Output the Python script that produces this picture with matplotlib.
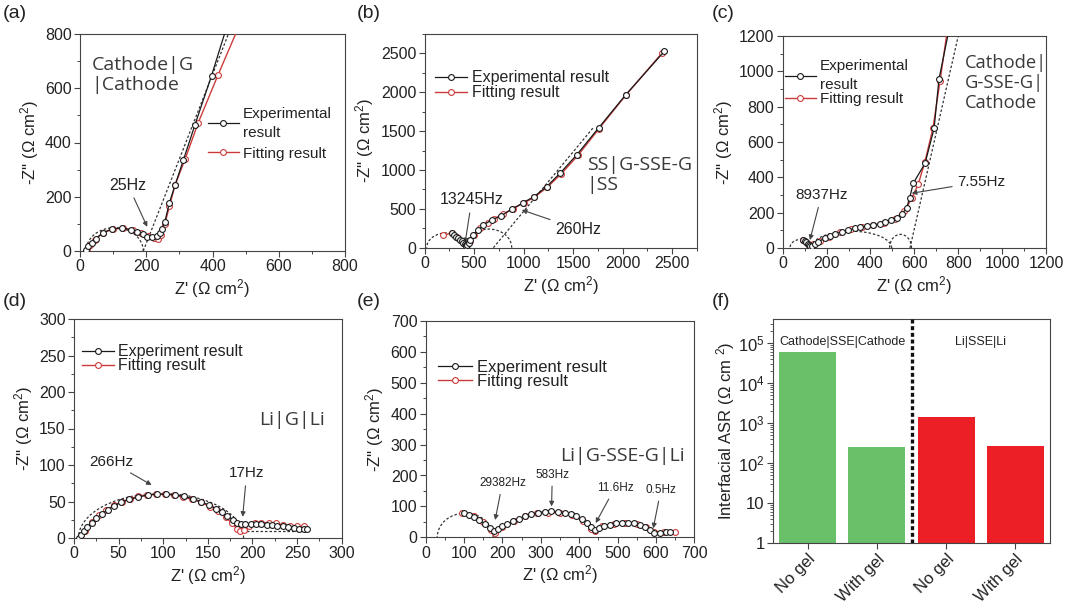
import numpy as np
import matplotlib
matplotlib.use("Agg")
import matplotlib.pyplot as plt
from matplotlib.patches import Arc
from matplotlib.ticker import MultipleLocator, FixedLocator, LogLocator, NullFormatter

plt.rcParams['font.family'] = ['Liberation Sans', 'DejaVu Sans']
plt.rcParams['mathtext.fontset'] = 'custom'
plt.rcParams['mathtext.rm'] = 'Liberation Sans'
plt.rcParams['mathtext.it'] = 'Liberation Sans:italic'
plt.rcParams['mathtext.bf'] = 'Liberation Sans:bold'

# ---------------- data ----------------
# (a) Cathode|G|Cathode
a_exp_x = [18, 25, 35, 48, 70, 96, 126, 153, 173, 189, 203, 217, 232, 241, 247, 256, 270, 287, 312, 347, 397, 440]
a_exp_y = [5, 17, 30, 46, 68, 81, 85, 79, 69, 61, 52, 50, 55, 68, 82, 107, 178, 243, 335, 465, 646, 815]
a_fit_x = [20, 30, 45, 70, 100, 130, 160, 185, 205, 222, 235, 245, 256, 270, 287, 317, 357, 417, 475]
a_fit_y = [6, 22, 42, 67, 81, 84, 78, 67, 55, 47, 45, 60, 100, 165, 243, 338, 473, 650, 815]
a_arcs = [(104.5, 173, 172)]          # centre, width, height (data units)
a_guide_x = [191, 448]
a_guide_y = [0, 800]

# (b) SS|G-SSE-G|SS
b_exp_x = [275, 300, 322, 342, 360, 378, 393, 405, 415, 422, 430, 445, 460, 493, 544, 594, 679, 770, 881, 998,
           1106, 1234, 1369, 1537, 1756, 2032, 2422]
b_exp_y = [186, 165, 142, 120, 100, 80, 62, 48, 36, 28, 30, 60, 100, 164, 228, 293, 357, 409, 495, 581,
           658, 787, 960, 1196, 1540, 1970, 2529]
b_fit_x = [190, 275, 330, 380, 420, 460, 500, 560, 640, 700, 790, 890, 1000, 1110, 1240, 1380, 1550, 1760, 2030, 2400]
b_fit_y = [160, 190, 135, 80, 35, 90, 165, 250, 320, 370, 430, 500, 575, 650, 780, 950, 1190, 1530, 1960, 2510]
b_arcs = [(222, 400, 380), (650, 460, 480)]
b_guide_x = [695, 1700]
b_guide_y = [0, 1540]

# (c) Cathode|G-SSE-G|Cathode
c_exp_x = [94, 100, 107, 114, 120, 126, 132, 145, 162, 193, 216, 238, 269, 299, 330, 352, 383, 413, 444, 466,
           492, 520, 542, 565, 578, 595, 649, 690, 712, 757]
c_exp_y = [45, 39, 32, 25, 18, 12, 14, 24, 36, 55, 68, 79, 91, 102, 111, 117, 124, 130, 138, 147,
           158, 171, 190, 228, 281, 366, 480, 677, 954, 1230]
c_fit_x = [94, 110, 126, 140, 170, 210, 260, 310, 360, 410, 460, 510, 555, 590, 618, 648, 685, 717, 750]
c_fit_y = [45, 30, 12, 22, 42, 65, 88, 105, 118, 128, 142, 165, 210, 285, 362, 487, 680, 945, 1230]
c_arcs = [(82, 98, 98), (313, 367, 190), (537, 100, 154)]
c_guide_x = [580, 800]
c_guide_y = [0, 1200]

# (d) Li|G|Li
d_exp_x = [6, 8, 11, 15, 20, 25, 31, 38, 45, 53, 62, 72, 83, 93, 103, 113, 123, 133, 142, 151, 159, 166, 172, 178,
           183, 187, 192, 198, 204, 210, 216, 222, 228, 234, 240, 246, 252, 258, 261]
d_exp_y = [0, 4, 9, 15, 21, 27, 33, 39, 44, 49, 53, 56, 59, 60, 60, 59, 57, 54, 50, 45, 40, 35, 30, 25,
           21, 19, 19, 19, 19, 19, 18, 18, 17, 16, 15, 14, 13, 12, 12]
d_fit_x = [7, 12, 20, 28, 36, 45, 54, 63, 72, 82, 92, 102, 112, 122, 132, 142, 152, 161, 170, 177, 183, 186, 190,
           196, 203, 210, 218, 226, 234, 242, 250, 258]
d_fit_y = [0, 10, 22, 31, 38, 45, 50, 54, 57, 59, 60, 60, 59, 56, 53, 49, 43, 37, 29, 20, 12, 9, 11,
           17, 20, 21, 21, 20, 18, 17, 16, 16]
d_arcs = [(97.5, 185, 122)]
d_guide_x = [188, 262]
d_guide_y = [10, 10]

# (e) Li|G-SSE-G|Li
e_exp_x = [100, 112, 125, 140, 155, 168, 178, 188, 200, 213, 227, 242, 258, 275, 293, 310, 327, 345, 362, 378, 393,
           408, 420, 432, 440, 452, 465, 480, 496, 512, 528, 543, 558, 572, 585, 595, 610, 625, 637]
e_exp_y = [78, 73, 66, 55, 43, 30, 22, 28, 36, 44, 52, 60, 68, 74, 80, 83, 84, 83, 80, 75, 68,
           58, 45, 32, 25, 30, 36, 41, 45, 47, 47, 45, 40, 32, 24, 15, 14, 17, 18]
e_fit_x = [95, 125, 150, 170, 180, 200, 230, 260, 290, 320, 350, 380, 410, 430, 440, 460, 490, 520, 550, 575, 595, 620, 650]
e_fit_y = [78, 70, 50, 25, 15, 32, 52, 68, 78, 80, 79, 72, 52, 28, 20, 35, 44, 47, 44, 32, 18, 17, 18]
e_arcs = [(103, 146, 156)]

# (f) interfacial ASR
f_cats = ['No gel', 'With gel', 'No gel', 'With gel']
f_vals = [6.0e4, 250, 1400, 265]
f_groups = ['Cathode|SSE|Cathode', 'Li|SSE|Li']

# ---------------- styles ----------------
BLACK = '#1a1a1a'
RED = '#cc3b3b'
GUIDE = '#333333'
SPINE = '#444444'
TXT = '#222222'
SAMPLE = '#3a3a3a'
GREEN = '#6abf69'
BRED = '#ec1f26'

fig = plt.figure(figsize=(10.72, 6.11), dpi=100)

def mk_ax(l, r, b, t):
    W, H = 1072, 611
    return fig.add_axes([l / W, (H - b) / H, (r - l) / W, (b - t) / H])

def style(ax, xlim, ylim, xmaj, ymaj, fs=11.5):
    ax.set_xlim(*xlim)
    ax.set_ylim(*ylim)
    ax.xaxis.set_major_locator(MultipleLocator(xmaj))
    ax.yaxis.set_major_locator(MultipleLocator(ymaj))
    ax.xaxis.set_minor_locator(MultipleLocator(xmaj / 2))
    ax.yaxis.set_minor_locator(MultipleLocator(ymaj / 2))
    ax.tick_params(which='major', direction='out', length=4, width=0.8, color=SPINE,
                   labelsize=fs, labelcolor=TXT, pad=2)
    ax.tick_params(which='minor', direction='out', length=2.2, width=0.7, color=SPINE)
    for s in ax.spines.values():
        s.set_color(SPINE)
        s.set_linewidth(0.8)
    ax.set_xlabel("Z' ($\\Omega$ cm$^2$)", fontsize=12, color=TXT, labelpad=2)
    ax.set_ylabel("-Z'' ($\\Omega$ cm$^2$)", fontsize=12, color=TXT, labelpad=3)

def nyq(ax, ex, ey, fx, fy):
    ax.plot(fx, fy, '-o', color=RED, lw=1.0, ms=4.2, mfc='white', mew=0.8, zorder=3,
            label='Fitting result')
    ax.plot(ex, ey, '-o', color=BLACK, lw=0.9, ms=4.2, mfc='white', mew=0.8, zorder=4,
            label='Experiment result')

def arcs(ax, lst):
    for cx, w, h in lst:
        ax.add_patch(Arc((cx, 0), w, h, theta1=0, theta2=180, color=GUIDE, lw=0.9,
                         ls=(0, (2, 1.6)), zorder=2))

def guide(ax, x, y):
    ax.plot(x, y, color=GUIDE, lw=0.9, ls=(0, (2, 1.6)), zorder=2)

def legend(ax, labels, fx, fy, fs=11.5, ls=0.0, lsp=1.2):
    h = ax.get_legend_handles_labels()[0]
    leg = ax.legend([h[1], h[0]], labels, loc='upper left', bbox_to_anchor=(fx, fy),
                    frameon=False, fontsize=fs, handlelength=2.0, handletextpad=0.3,
                    borderpad=0, borderaxespad=0, labelspacing=ls, numpoints=1)
    for t in leg.get_texts():
        t.set_color(TXT)
        t.set_linespacing(lsp)

def arrow(ax, txt, xy, xytext, fs=11):
    ax.annotate(txt, xy=xy, xytext=xytext, ha='center', va='center', fontsize=fs, color=TXT,
                arrowprops=dict(arrowstyle='-|>', color='#444444', lw=0.8, mutation_scale=7,
                                shrinkA=2, shrinkB=0))

# (a)
ax = mk_ax(80, 345, 251, 34)
style(ax, (0, 800), (0, 800), 200, 200)
nyq(ax, a_exp_x, a_exp_y, a_fit_x, a_fit_y)
arcs(ax, a_arcs)
guide(ax, a_guide_x, a_guide_y)
legend(ax, ['Experimental\nresult', 'Fitting result'], 0.483, 0.665, fs=11, ls=0.45, lsp=1.45)
arrow(ax, '25Hz', (203, 89), (145, 243), fs=11.5)
ax.text(35, 720, 'Cathode|G\n|Cathode', fontsize=14, family='Open Sans', color=SAMPLE,
        va='top', ha='left', linespacing=1.15)

# (b)
ax = mk_ax(424.5, 697, 247.7, 34)
style(ax, (0, 2750), (0, 2750), 500, 500)
nyq(ax, b_exp_x, b_exp_y, b_fit_x, b_fit_y)
arcs(ax, b_arcs)
guide(ax, b_guide_x, b_guide_y)
legend(ax, ['Experimental result', 'Fitting result'], 0.038, 0.83, fs=11.5, ls=0.0)
arrow(ax, '13245Hz', (409, 57), (477, 615), fs=11.5)
arrow(ax, '260Hz', (982, 486), (1554, 237), fs=11.5)
ax.text(1638, 1180, 'SS|G-SSE-G\n|SS', fontsize=14, family='Open Sans', color=SAMPLE,
        va='top', ha='left', linespacing=1.15)

# (c)
ax = mk_ax(782.7, 1046, 248, 36)
style(ax, (0, 1200), (0, 1200), 200, 200)
nyq(ax, c_exp_x, c_exp_y, c_fit_x, c_fit_y)
arcs(ax, c_arcs)
guide(ax, c_guide_x, c_guide_y)
legend(ax, ['Experimental\nresult', 'Fitting result'], 0.009, 0.89, fs=11, ls=0.05, lsp=1.4)
arrow(ax, '8937Hz', (124, 45), (177, 300), fs=11)
arrow(ax, '7.55Hz', (588, 310), (907, 375), fs=11)
ax.text(828, 1100, 'Cathode|\nG-SSE-G|\nCathode', fontsize=13.2, family='Open Sans', color=SAMPLE,
        va='top', ha='left', linespacing=1.15)

# (d)
ax = mk_ax(74, 341.7, 538, 319)
style(ax, (0, 300), (0, 300), 50, 50)
nyq(ax, d_exp_x, d_exp_y, d_fit_x, d_fit_y)
arcs(ax, d_arcs)
guide(ax, d_guide_x, d_guide_y)
legend(ax, ['Experiment result', 'Fitting result'], 0.029, 0.885, fs=11.5, ls=-0.05)
arrow(ax, '266Hz', (87, 72.6), (41.5, 104.5), fs=11)
arrow(ax, '17Hz', (189, 29), (193.5, 88.6), fs=11)
ax.text(208, 162, 'Li|G|Li', fontsize=14, family='Open Sans', color=SAMPLE, va='center', ha='left')

# (e)
ax = mk_ax(425.7, 694.3, 537.3, 321)
style(ax, (0, 700), (0, 700), 100, 100)
nyq(ax, e_exp_x, e_exp_y, e_fit_x, e_fit_y)
arcs(ax, e_arcs)
legend(ax, ['Experiment result', 'Fitting result'], 0.047, 0.82, fs=12, ls=-0.05)
arrow(ax, '29382Hz', (181, 56), (200, 176), fs=8.5)
arrow(ax, '583Hz', (328, 100), (330, 203), fs=8.5)
arrow(ax, '11.6Hz', (443, 46), (493, 160), fs=8.5)
arrow(ax, '0.5Hz', (593, 29), (613, 154), fs=8.5)
ax.text(350, 262, 'Li|G-SSE-G|Li', fontsize=14, family='Open Sans', color=SAMPLE, va='center', ha='left')

# (f)
ax = mk_ax(773, 1050, 543, 319)
pos = np.arange(len(f_cats))
ax.bar(pos, f_vals, width=0.82, color=[GREEN, GREEN, BRED, BRED], zorder=2)
ax.set_yscale('log')
ax.set_ylim(1, 3.9e5)
ax.set_xlim(-0.5, 3.5)
ax.set_xticks(pos)
ax.set_xticklabels(f_cats, rotation=45, ha='right', va='top', rotation_mode='anchor', fontsize=12, color=TXT)
ax.yaxis.set_major_locator(FixedLocator([1, 10, 1e2, 1e3, 1e4, 1e5]))
ax.set_yticklabels(['1', '10', '$10^2$', '$10^3$', '$10^4$', '$10^5$'], fontsize=12, color=TXT)
ax.yaxis.set_minor_locator(LogLocator(base=10, subs=np.arange(2, 10)))
ax.yaxis.set_minor_formatter(NullFormatter())
ax.tick_params(which='major', direction='out', length=4, width=0.8, color=SPINE, pad=2)
ax.tick_params(which='minor', direction='out', length=2, width=0.6, color=SPINE)
for s in ax.spines.values():
    s.set_color(SPINE)
    s.set_linewidth(0.8)
ax.axvline(1.5, color='#111111', lw=2.4, ls=(0, (1.2, 0.8)), zorder=3)
ax.set_ylabel('Interfacial ASR ($\\Omega$ cm $^2$)', fontsize=12, color=TXT, labelpad=1)
ax.text(0.5, 1.05e5, f_groups[0], fontsize=9, ha='center', va='center', color=TXT)
ax.text(2.5, 1.05e5, f_groups[1], fontsize=9, ha='center', va='center', color=TXT)

# panel letters
for lbl, x, y in [('(a)', 3, 14), ('(b)', 357, 14), ('(c)', 712, 14),
                  ('(d)', 3, 302), ('(e)', 357, 302), ('(f)', 712, 302)]:
    fig.text(x / 1072, 1 - y / 611, lbl, fontsize=14, ha='left', va='center', color=TXT)

fig.savefig('out.png', dpi=100)
